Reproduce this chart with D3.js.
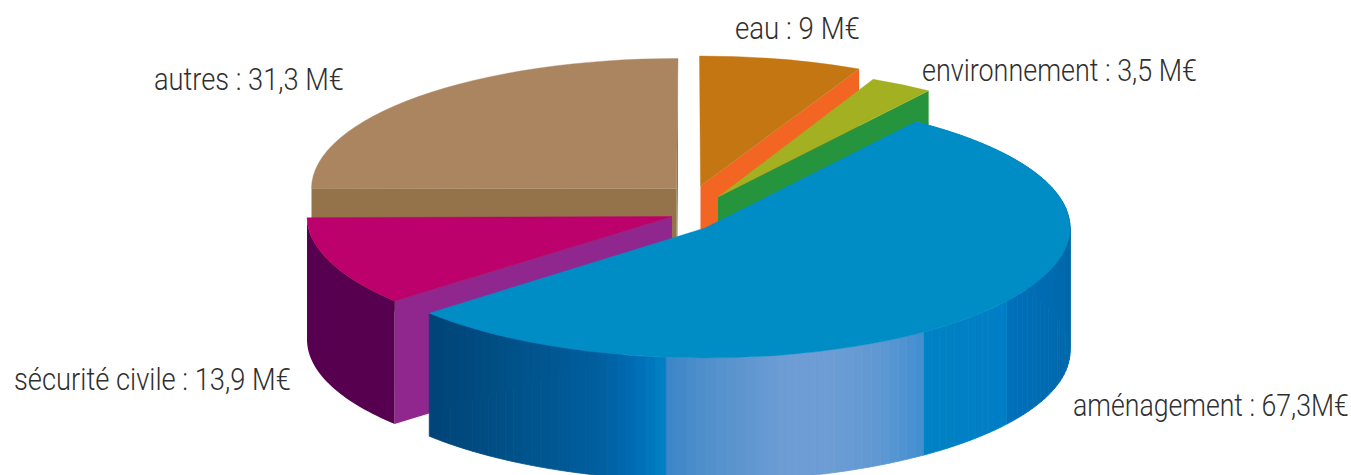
<!DOCTYPE html>
<html lang="fr">
<head>
<meta charset="utf-8">
<script src="https://cdn.jsdelivr.net/npm/d3@7"></script>
<style>
html,body{margin:0;padding:0;background:#fff;overflow:hidden}
svg{display:block}
text{font-family:Roboto,"Liberation Sans",sans-serif;font-size:31.5px;fill:#2f2f2f;font-weight:300}
</style>
</head>
<body>
<svg id="chart" width="1351" height="475"></svg>
<script>
// --- data ---
const categories = ["aménagement", "sécurité civile", "autres", "eau", "environnement"];
const values = [67.3, 13.9, 31.3, 9, 3.5];
const labels = ["aménagement : 67,3M€", "sécurité civile : 13,9 M€", "autres : 31,3 M€", "eau : 9 M€", "environnement : 3,5 M€"];

// --- layout (separate from the data) ---
const width = 1351, height = 475;
const rx = 365, ry = 130, depth = 123;
const firstAngle = 35.64 * Math.PI / 180;
const centres = {
  "aménagement": [705, 228],
  "sécurité civile": [672, 216.5],
  "autres": [676.5, 188.5],
  "eau": [700.5, 186],
  "environnement": [718, 197]
};
// small per-slice turn, in degrees, to follow the reference's perspective
const turns = {"aménagement": -0.4, "sécurité civile": 0, "autres": 0.6, "eau": 0.2, "environnement": -0.4};
const labelBoxes = {
  "aménagement": [1073, 416, 276],
  "sécurité civile": [14, 390, 277],
  "autres": [154, 90, 190],
  "eau": [735, 39, 125],
  "environnement": [922, 81, 275]
};
const colours = {
  "aménagement": {top: "#008dc5"},
  "sécurité civile": {top: "#bc006c", edge: "#90278e", outer: "#570050"},
  "autres": {top: "#ab8560", edge: "#94734a"},
  "eau": {top: "#c47612", edge: "#f26522"},
  "environnement": {top: "#a2b021", edge: "#26943c"}
};
// shading of the big slice's outer wall, by horizontal position
const wallStops = [430, 500, 600, 640, 664, 665, 700, 785, 830, 880, 920, 921, 1006, 1007, 1070];
const wallTones = ["#004478", "#004f85", "#005f9f", "#006fb8", "#0080c4", "#3a85c8", "#4e8ecb", "#6d9dd4", "#6d9dd4", "#5f98d3", "#428fcf", "#0082c4", "#007ec5", "#0070bc", "#0068aa"];
const wallTone = d3.scaleLinear().domain(wallStops).range(wallTones);

const svg = d3.select("#chart");
const pie = d3.pie().sort(null).value(d => d.value)
  .startAngle(firstAngle).endAngle(firstAngle + 2 * Math.PI);
const slices = pie(categories.map((name, i) => ({name, value: values[i], label: labels[i]})));

const xUnit = d3.scaleLinear().domain([-1, 1]).range([-rx, rx]);
const yUnit = d3.scaleLinear().domain([-1, 1]).range([-ry, ry]);
const px = a => xUnit(Math.sin(a));
const py = a => yUnit(-Math.cos(a));
const arc = d3.arc().innerRadius(0).outerRadius(rx);
const wallArea = d3.area().x(a => px(a)).y0(a => py(a)).y1(a => py(a) + depth);
const poly = d3.line();

function samples(a0, a1, step) {
  const n = Math.max(1, Math.ceil((a1 - a0) / step));
  return d3.range(n + 1).map(i => a0 + (a1 - a0) * i / n);
}

// the radial face at a slice's straight edge
function edgeFace(angle) {
  return poly([[0, 0], [px(angle), py(angle)], [px(angle), py(angle) + depth], [0, depth]]) + "Z";
}

function drawSlice(s) {
  const name = s.data.name, col = colours[name], c = centres[name];
  const turn = turns[name] * Math.PI / 180;
  const a0 = s.startAngle + turn, a1 = s.endAngle + turn;
  const g = svg.append("g").attr("class", "slice").attr("transform", `translate(${c[0]},${c[1]})`);
  if (name === "aménagement") {
    // banded outer wall, from the right-hand side round to the slice's end
    const as = samples(a0, a1, 1.6 * Math.PI / 180);
    d3.pairs(as).forEach(([b0, b1]) => {
      const tone = wallTone(c[0] + px((b0 + b1) / 2));
      g.append("path").attr("d", wallArea([b0, b1])).attr("fill", tone).attr("stroke", tone).attr("stroke-width", 0.8);
    });
  } else if (name === "sécurité civile") {
    g.append("path").attr("d", edgeFace(a0)).attr("fill", col.edge);
    g.append("path").attr("d", wallArea(samples(a0, a1, 0.02))).attr("fill", col.outer);
  } else if (name === "autres") {
    g.append("path").attr("d", edgeFace(a0)).attr("fill", col.edge);
    g.append("path").attr("d", edgeFace(a1)).attr("fill", col.edge);
  } else {
    g.append("path").attr("d", edgeFace(a1)).attr("fill", col.edge);
  }
  g.append("path")
    .attr("transform", `scale(1,${ry / rx})`)
    .attr("d", arc({startAngle: a0, endAngle: a1}))
    .attr("fill", col.top)
    .attr("stroke", col.top).attr("stroke-width", 0.6);
}

// painter's order: back slices first, big slice last
["autres", "eau", "environnement", "sécurité civile", "aménagement"]
  .forEach(n => drawSlice(slices.find(s => s.data.name === n)));

// labels: narrowed horizontally to the reference's condensed width
svg.append("g").selectAll("text").data(slices).join("text")
  .text(d => d.data.label)
  .attr("transform", function (d) {
    const b = labelBoxes[d.data.name];
    return `translate(${b[0]},${b[1]}) scale(${b[2] / this.getComputedTextLength()},1)`;
  });
</script>
</body>
</html>
